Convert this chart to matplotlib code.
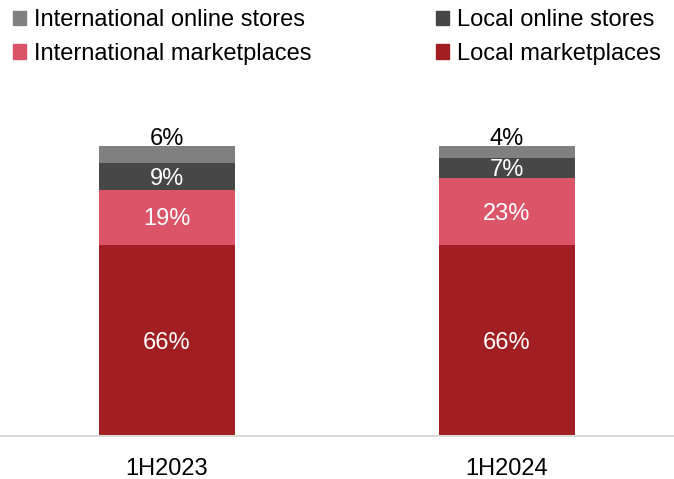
import matplotlib.pyplot as plt
from matplotlib.patches import Patch

plt.rcParams["font.family"] = ["Liberation Sans", "DejaVu Sans"]

periods = ["1H2023", "1H2024"]
series = ["Local marketplaces", "International marketplaces", "Local online stores", "International online stores"]
local_marketplaces = [66, 66]
intl_marketplaces = [19, 23]
local_online = [9, 7]
intl_online = [6, 4]

colors = {
    "Local marketplaces": "#A11F22",
    "International marketplaces": "#DC5468",
    "Local online stores": "#474747",
    "International online stores": "#808080",
}

values = {
    "Local marketplaces": local_marketplaces,
    "International marketplaces": intl_marketplaces,
    "Local online stores": local_online,
    "International online stores": intl_online,
}

fig = plt.figure(figsize=(6.74, 4.79), dpi=100)
base_px = 436
h_px = 290 * 1.1
ax = fig.add_axes([0, (479 - base_px) / 479, 1, h_px / 479])

x = list(range(len(periods)))
width = 0.4
bottoms = [0] * len(periods)
for name in series:
    vals = values[name]
    ax.bar(x, vals, width, bottom=bottoms, color=colors[name], linewidth=0, zorder=2)
    for i, v in enumerate(vals):
        if name == "International online stores":
            # small top segment: label sits above the bar
            ax.annotate(f"{v}%", (x[i], bottoms[i] + v), xytext=(0, 1), textcoords="offset points",
                        ha="center", va="baseline", fontsize=17, color="black")
        else:
            ax.annotate(f"{v}%", (x[i], bottoms[i] + v / 2), xytext=(0, -1.7), textcoords="offset points",
                        ha="center", va="center", fontsize=17, color="white")
    bottoms = [b + v for b, v in zip(bottoms, vals)]

ax.set_xlim(-167 / 340, 1 + 167 / 340)
ax.set_ylim(0, 110)
for s in ["top", "right", "left"]:
    ax.spines[s].set_visible(False)
ax.spines["bottom"].set_color("#D9D9D9")
ax.spines["bottom"].set_linewidth(1.5)
ax.set_yticks([])
ax.set_xticks(x, periods, fontsize=17)
ax.tick_params(axis="x", length=0, pad=16)

order = ["International online stores", "International marketplaces",
         "Local online stores", "Local marketplaces"]
handles = [Patch(color=colors[n], label=n) for n in order]
fig.legend(handles=handles, ncol=2, loc="upper left", bbox_to_anchor=(0.005, 1.0),
           frameon=False, fontsize=17, handlelength=0.55, handleheight=0.55,
           handletextpad=0.35, columnspacing=5.25, labelspacing=0.48, borderaxespad=0)

fig.savefig("out.png", dpi=100)
